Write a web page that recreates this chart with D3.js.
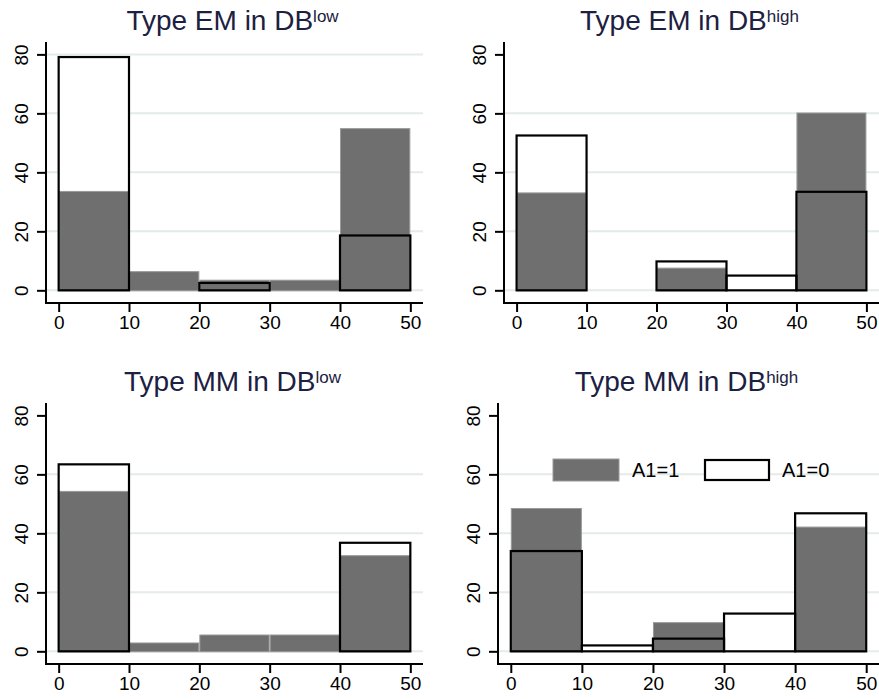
<!DOCTYPE html>
<html>
<head>
<meta charset="utf-8">
<script src="https://cdn.jsdelivr.net/npm/d3@7"></script>
<style>
  body { margin: 0; background: #fff; }
  text { font-family: "Liberation Sans", Arial, sans-serif; }
</style>
</head>
<body>
<div id="chart"></div>
<script>
const width = 879;
const height = 699;

// bins (lower edges), width 10
const binStarts = [0, 10, 20, 30, 40];
const xTicks = [0, 10, 20, 30, 40, 50];
const yTicks = [0, 20, 40, 60, 80];

const panelTypes = ['EM', 'EM', 'MM', 'MM'];
const panelDB = ['low', 'high', 'low', 'high'];

// A1=1 (grey filled) and A1=0 (outlined) percentages per bin
const emLowA1 = [33.7, 6.5, 3.6, 3.6, 55.0];
const emLowA0 = [79.1, 0, 2.5, 0, 18.6];
const emHighA1 = [33.2, 0, 7.7, 0, 60.3];
const emHighA0 = [52.5, 0, 9.8, 5.0, 33.4];
const mmLowA1 = [54.4, 3.0, 5.7, 5.7, 32.6];
const mmLowA0 = [63.4, 0, 0, 0, 36.8];
const mmHighA1 = [48.6, 0, 9.9, 0, 42.3];
const mmHighA0 = [34.0, 2.0, 4.3, 12.8, 46.8];

const legendLabels = ['A1=1', 'A1=0'];

const seriesA1 = [emLowA1, emHighA1, mmLowA1, mmHighA1];
const seriesA0 = [emLowA0, emHighA0, mmLowA0, mmHighA0];

// plot frames (axis positions)
const frames = [
    {left: 46, right: 423, top: 42, bottom: 303, grid80: true},
    {left: 504, right: 879, top: 42, bottom: 303, grid80: false},
    {left: 46, right: 423, top: 403, bottom: 664, grid80: false},
    {left: 498, right: 879, top: 403, bottom: 664, grid80: false}
];

const grey = '#6f6f6f';
const titleColor = '#1c2041';

const svg = d3.select('#chart')
    .append('svg')
    .attr('width', width)
    .attr('height', height);

frames.forEach((f, i) => drawPanel(f, i));
drawLegend(frames[3]);

function drawPanel(f, i) {
    const g = svg.append('g');

    const x = d3.scaleLinear().domain([-1.8, 51.8]).range([f.left, f.right]);
    const y = d3.scaleLinear().domain([-4.3, 84.2]).range([f.bottom, f.top]);

    // grid lines
    g.selectAll('.grid')
        .data(yTicks.filter(t => t < 80 || f.grid80))
        .enter().append('line')
        .attr('x1', f.left + 1).attr('x2', f.right)
        .attr('y1', d => y(d)).attr('y2', d => y(d))
        .attr('stroke', '#e3ebeb')
        .attr('stroke-width', 2);

    const a0 = binStarts.map((b, k) => ({b: b, v: seriesA0[i][k]})).filter(d => d.v > 0);
    const a1 = binStarts.map((b, k) => ({b: b, v: seriesA1[i][k]})).filter(d => d.v > 0);

    // white fill of outlined bars
    g.selectAll('.a0fill')
        .data(a0).enter().append('rect')
        .attr('x', d => x(d.b)).attr('width', d => x(d.b + 10) - x(d.b))
        .attr('y', d => y(d.v)).attr('height', d => y(0) - y(d.v))
        .attr('fill', '#fff');

    // grey bars
    g.selectAll('.a1')
        .data(a1).enter().append('rect')
        .attr('x', d => x(d.b) + 0.5).attr('width', d => x(d.b + 10) - x(d.b) - 1)
        .attr('y', d => y(d.v) + 0.5).attr('height', d => y(0) - y(d.v))
        .attr('fill', grey)
        .attr('stroke', '#9a9a9a')
        .attr('stroke-width', 1);

    // outlines on top
    g.selectAll('.a0')
        .data(a0).enter().append('rect')
        .attr('x', d => x(d.b)).attr('width', d => x(d.b + 10) - x(d.b))
        .attr('y', d => y(d.v)).attr('height', d => y(0) - y(d.v))
        .attr('fill', 'none')
        .attr('stroke', '#000')
        .attr('stroke-width', 2.2);

    // x axis
    const xAxis = g.append('g')
        .attr('transform', 'translate(0,' + f.bottom + ')')
        .call(d3.axisBottom(x).tickValues(xTicks).tickSizeInner(9).tickSizeOuter(0).tickPadding(4));
    xAxis.select('.domain').attr('stroke-width', 2).attr('d', 'M' + (f.left - 1) + ',0H' + f.right);
    xAxis.selectAll('.tick line').attr('stroke-width', 2);
    xAxis.selectAll('.tick text').attr('font-size', 19).attr('fill', '#000')
        .attr('font-family', '"Liberation Sans", Arial, sans-serif');

    // y axis
    const yAxis = g.append('g')
        .attr('transform', 'translate(' + f.left + ',0)')
        .call(d3.axisLeft(y).tickValues(yTicks).tickSizeInner(9).tickSizeOuter(0));
    yAxis.select('.domain').attr('stroke-width', 2).attr('d', 'M0,' + f.top + 'V' + (f.bottom + 1));
    yAxis.selectAll('.tick line').attr('stroke-width', 2);
    yAxis.selectAll('.tick text')
        .attr('font-size', 19).attr('fill', '#000')
        .attr('font-family', '"Liberation Sans", Arial, sans-serif')
        .attr('x', null).attr('dy', null)
        .attr('text-anchor', 'middle')
        .attr('dominant-baseline', 'central')
        .attr('transform', 'translate(-25,0) rotate(-90)');

    // title
    const t = g.append('text')
        .attr('x', (f.left + f.right) / 2 - 2)
        .attr('y', f.top - 12)
        .attr('text-anchor', 'middle')
        .attr('fill', titleColor)
        .attr('font-size', 28);
    t.append('tspan').text('Type ' + panelTypes[i] + ' in DB');
    t.append('tspan').attr('font-size', 17).attr('dy', -8).text(panelDB[i]);
}

function drawLegend(f) {
    const g = svg.append('g');
    g.append('rect')
        .attr('x', 553).attr('y', 459).attr('width', 66).attr('height', 22)
        .attr('fill', grey).attr('stroke', '#9a9a9a').attr('stroke-width', 1);
    g.append('text').attr('x', 632).attr('y', 477).attr('font-size', 20).text(legendLabels[0]);
    g.append('rect')
        .attr('x', 705).attr('y', 460).attr('width', 64).attr('height', 20)
        .attr('fill', '#fff').attr('stroke', '#000').attr('stroke-width', 2.2);
    g.append('text').attr('x', 782).attr('y', 477).attr('font-size', 20).text(legendLabels[1]);
}
</script>
</body>
</html>
